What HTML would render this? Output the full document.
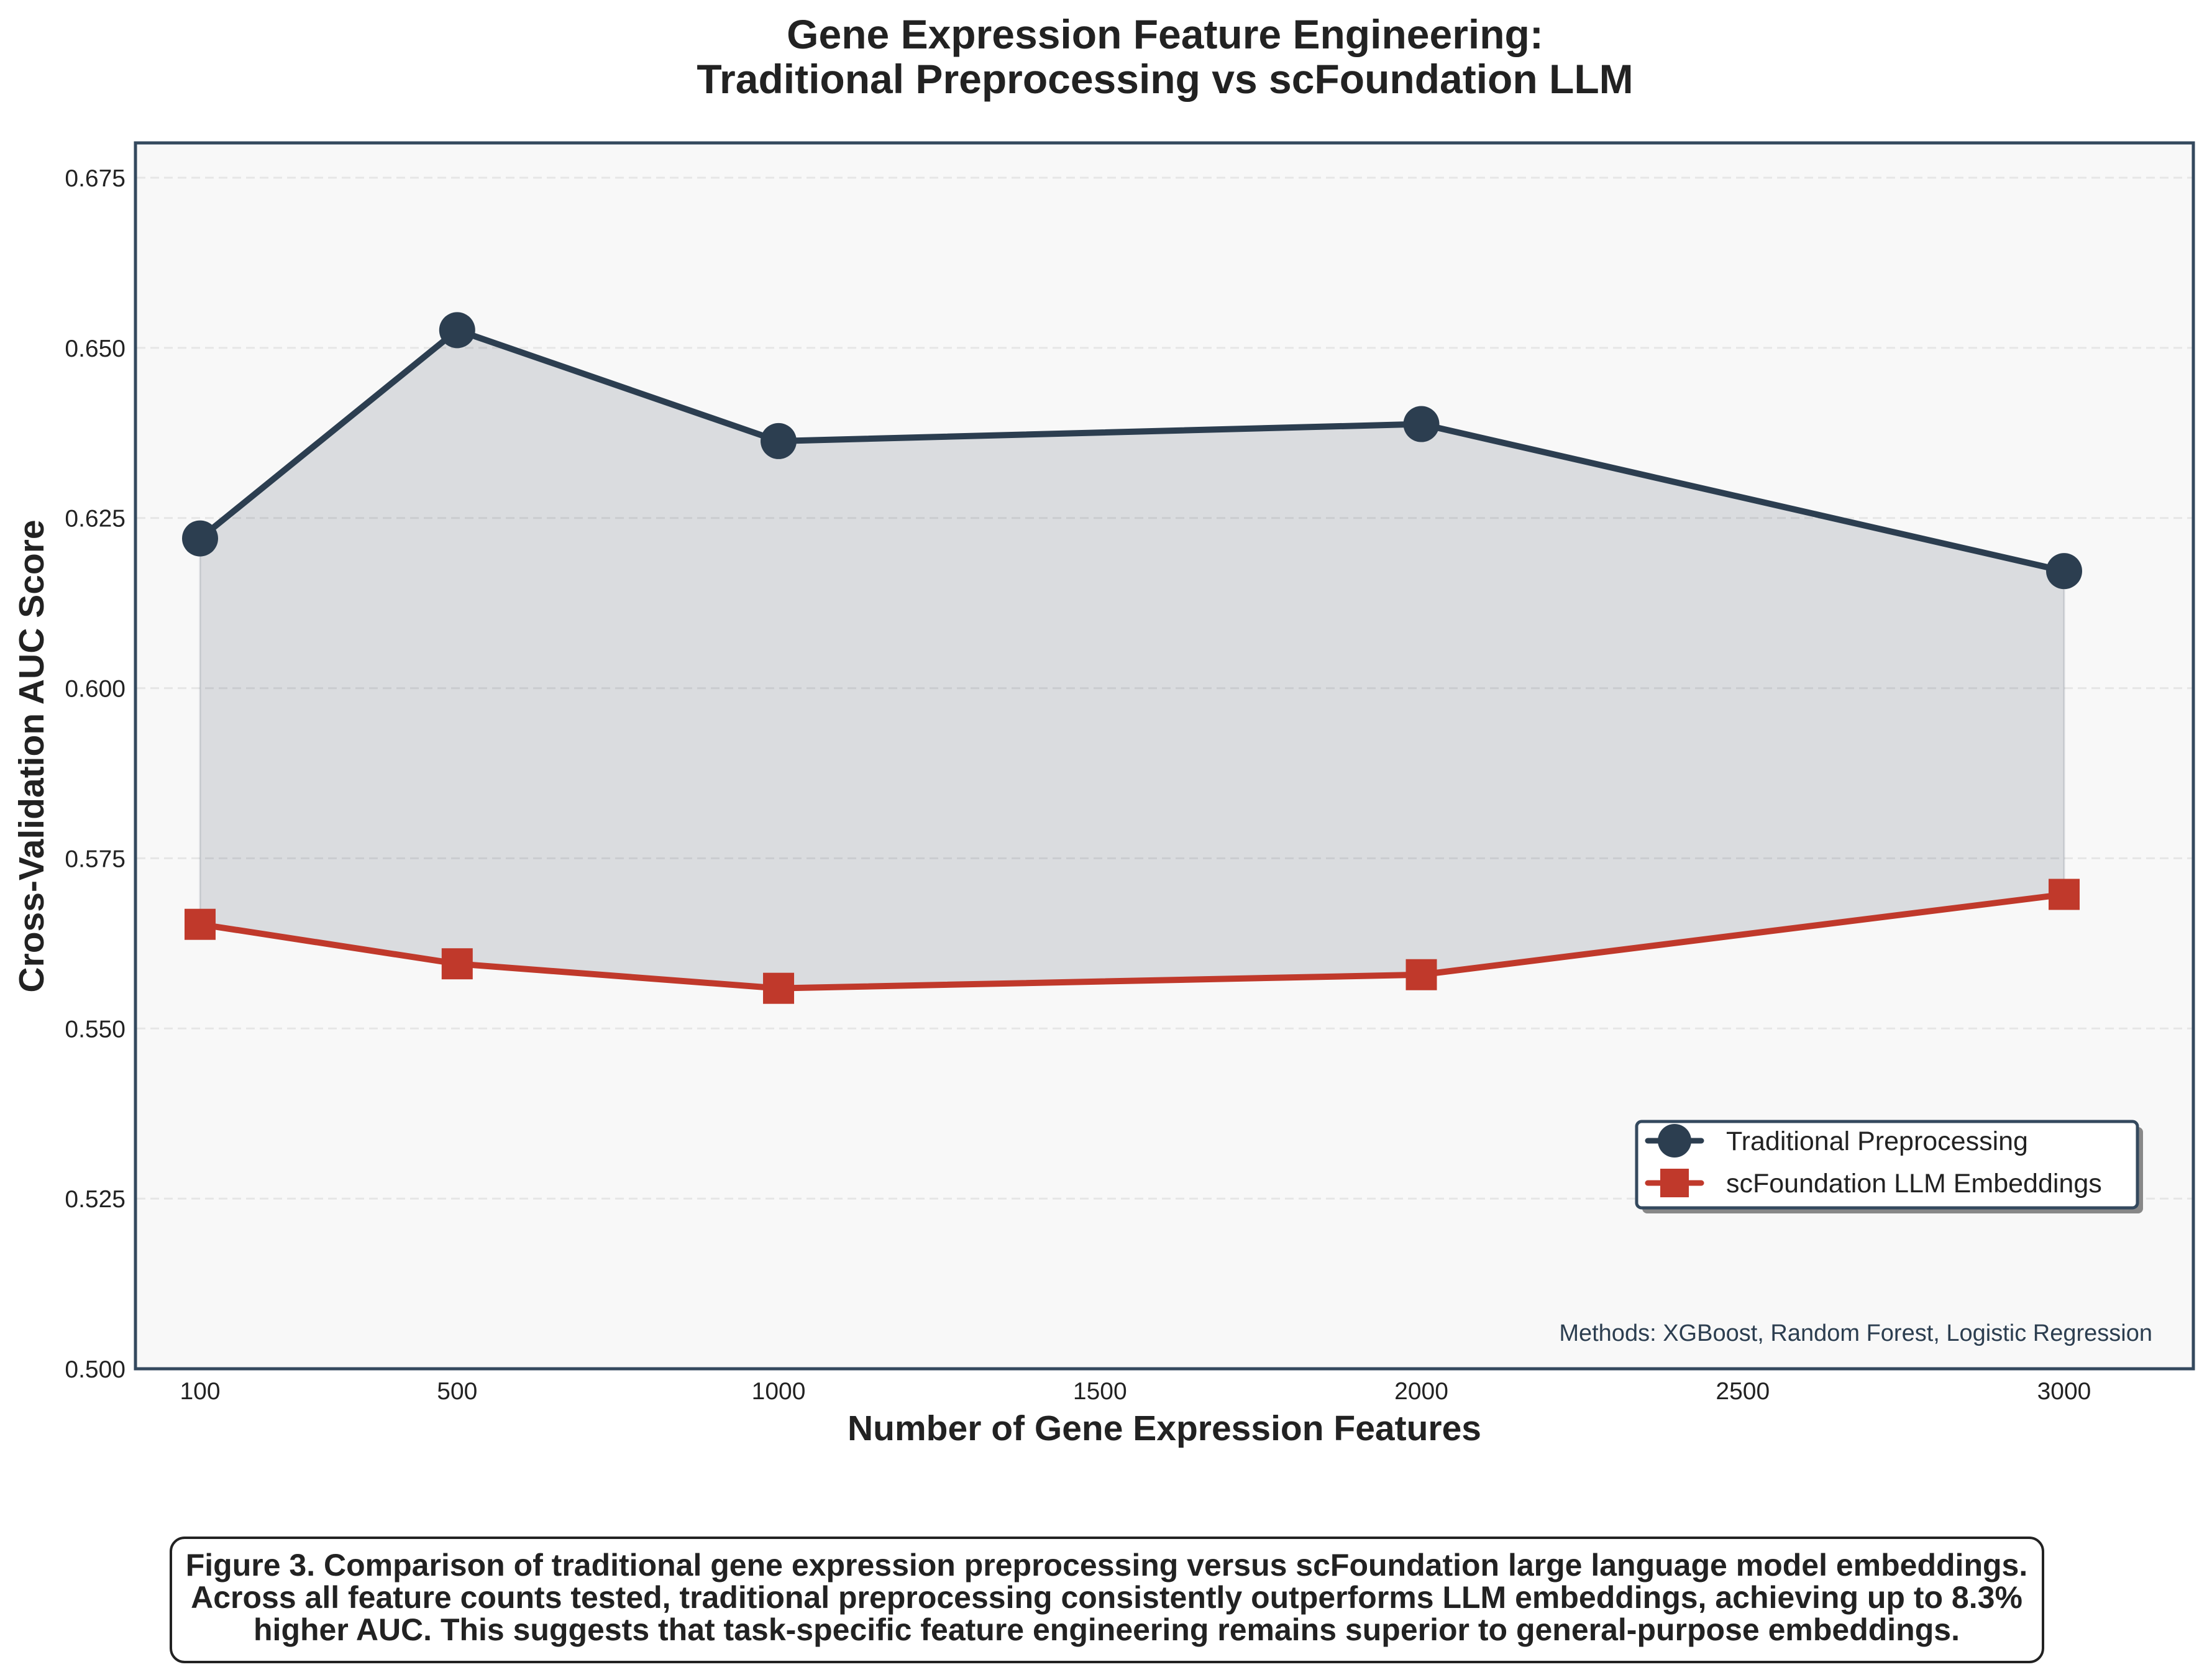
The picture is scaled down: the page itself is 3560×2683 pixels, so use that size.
<!DOCTYPE html>
<html><head><meta charset="utf-8"><style>
html,body{margin:0;padding:0;background:#fff;}
svg{display:block;font-family:"Liberation Sans",Arial,sans-serif;}
</style></head><body>
<svg id="chart" width="3560" height="2683" viewBox="0 0 3560 2683" xmlns="http://www.w3.org/2000/svg">
<rect x="0" y="0" width="3560" height="2683" fill="#ffffff"/>
<text x="1875" y="78" text-anchor="middle" font-size="66" font-weight="bold" fill="#222">Gene Expression Feature Engineering:</text>
<text x="1875" y="150" text-anchor="middle" font-size="66" font-weight="bold" fill="#222">Traditional Preprocessing vs scFoundation LLM</text>
<rect x="218" y="230" width="3312" height="1973" fill="#f8f8f8"/>
<g id="grid"></g>
<g id="fill"></g>
<g id="series"></g>
<rect x="218" y="230" width="3312" height="1973" fill="none" stroke="#34495e" stroke-width="5"/>
<g id="yticks"></g>
<g id="xticks"></g>
<text x="1874" y="2318" text-anchor="middle" font-size="57" font-weight="bold" fill="#222">Number of Gene Expression Features</text>
<text x="0" y="0" transform="translate(70,1217) rotate(-90)" text-anchor="middle" font-size="57" font-weight="bold" fill="#222">Cross-Validation AUC Score</text>
<g>
<rect x="2643" y="1814" width="806" height="139" rx="8" fill="#888"/>
<rect x="2634" y="1805" width="806" height="139" rx="8" fill="#fff" stroke="#34495e" stroke-width="5"/>
<g>
<line x1="2652" y1="1836" x2="2738" y2="1836" stroke="#2c3e50" stroke-width="9" stroke-linecap="round"/>
<circle cx="2695" cy="1836" r="27" fill="#2c3e50"/>
<text x="2778" y="1851" font-size="43" fill="#222">Traditional Preprocessing</text>
</g>
<g>
<line x1="2652" y1="1904" x2="2738" y2="1904" stroke="#c0392b" stroke-width="9" stroke-linecap="round"/>
<rect x="2672" y="1881" width="46" height="46" fill="#c0392b"/>
<text x="2778" y="1919" font-size="43" fill="#222">scFoundation LLM Embeddings</text>
</g>
</g>
<text x="3464" y="2158" text-anchor="end" font-size="38" fill="#2c3e50">Methods: XGBoost, Random Forest, Logistic Regression</text>
<g>
<rect x="275" y="2475" width="3013" height="200" rx="22" fill="#fff" stroke="#222" stroke-width="4"/>
<text x="1781" y="2536" text-anchor="middle" font-size="50" font-weight="bold" fill="#222">Figure 3. Comparison of traditional gene expression preprocessing versus scFoundation large language model embeddings.</text>
<text x="1781" y="2588" text-anchor="middle" font-size="50" font-weight="bold" fill="#222">Across all feature counts tested, traditional preprocessing consistently outperforms LLM embeddings, achieving up to 8.3%</text>
<text x="1781" y="2640" text-anchor="middle" font-size="50" font-weight="bold" fill="#222">higher AUC. This suggests that task-specific feature engineering remains superior to general-purpose embeddings.</text>
</g>
</svg>
<script>
const features = [100, 500, 1000, 2000, 3000];
const traditional = [0.6220, 0.6526, 0.6363, 0.6388, 0.6172];
const scfoundation = [0.5653, 0.5595, 0.5559, 0.5579, 0.5697];
const yTicks = [0.500, 0.525, 0.550, 0.575, 0.600, 0.625, 0.650, 0.675];
const xTicks = [100, 500, 1000, 1500, 2000, 2500, 3000];

const NS = 'http://www.w3.org/2000/svg';
function xs(v){ return 322 + (v - 100) * (3000 / 2900); }
function ys(v){ return 2203 - (v - 0.5) * (1917 / 0.175); }
function mk(tag, attrs, parent){
  const e = document.createElementNS(NS, tag);
  for (const k in attrs) e.setAttribute(k, attrs[k]);
  document.getElementById(parent).appendChild(e);
  return e;
}
yTicks.forEach(t => {
  const g = mk('line', {x1:220, x2:3528, y1:ys(t), y2:ys(t), stroke:'#e6e6e6', 'stroke-width':3, 'stroke-dasharray':'14,8'}, 'grid');
  
  
  const l = mk('text', {x:202, y:ys(t)+14, 'text-anchor':'end', 'font-size':39, fill:'#222'}, 'yticks');
  l.textContent = t.toFixed(3);
  
  
});
xTicks.forEach(t => {
  const l = mk('text', {x:xs(t), y:2252, 'text-anchor':'middle', 'font-size':39, fill:'#222'}, 'xticks');
  l.textContent = String(t);
  
  
});
let pts = features.map((f,i)=>xs(f)+','+ys(traditional[i]));
let back = features.map((f,i)=>xs(f)+','+ys(scfoundation[i])).reverse();
const area = mk('polygon', {points: pts.concat(back).join(' '), fill:'#2c3e50', 'fill-opacity':0.15, stroke:'#2c3e50', 'stroke-opacity':0.15, 'stroke-width':3}, 'fill');


const l1 = mk('polyline', {points: pts.join(' '), fill:'none', stroke:'#2c3e50', 'stroke-width':10, 'stroke-linejoin':'round'}, 'series');


const l2 = mk('polyline', {points: features.map((f,i)=>xs(f)+','+ys(scfoundation[i])).join(' '), fill:'none', stroke:'#c0392b', 'stroke-width':10, 'stroke-linejoin':'round'}, 'series');


features.forEach((f,i)=>{
  const c = mk('circle', {cx:xs(f), cy:ys(traditional[i]), r:29, fill:'#2c3e50'}, 'series');
  
  
  const s = mk('rect', {x:xs(f)-25, y:ys(scfoundation[i])-25, width:50, height:50, fill:'#c0392b'}, 'series');
  
  
});
</script>
</body></html>
